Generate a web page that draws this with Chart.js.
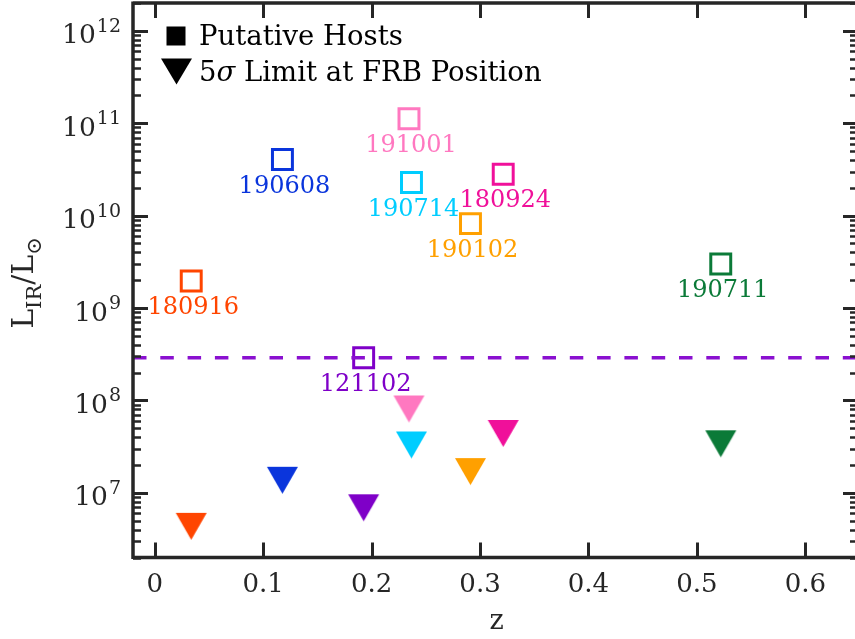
<!DOCTYPE html>
<html>
<head>
<meta charset="utf-8">
<script src="https://cdn.jsdelivr.net/npm/chart.js@4"></script>
<style>
  html, body { margin: 0; padding: 0; background: #fff; overflow: hidden; }
  canvas { display: block; }
</style>
</head>
<body>
<canvas id="irChart" width="855" height="639"></canvas>
<script>
// FRB hosts: redshift, IR luminosity of the host, and 5 sigma limit at the burst position
const frbNames = ['180916', '190608', '121102', '191001', '190714', '190102', '180924', '190711'];
const redshift = [0.0337, 0.1178, 0.1927, 0.2345, 0.2368, 0.2912, 0.3214, 0.5220];
const hostLir = [1.96e9, 4.05e10, 2.9e8, 1.12e11, 2.28e10, 8.2e9, 2.8e10, 3.0e9];
const limitLir = [4.35e6, 1.37e7, 6.9e6, 8.1e7, 3.3e7, 1.7e7, 4.4e7, 3.4e7];
const frbColors = ['#ff4500', '#0a35dc', '#7f00c8', '#ff78c0', '#00cdff', '#ffa000', '#f0109a', '#0b7a38'];
const thresholdLir = 2.9e8;
const thresholdColor = '#8a10d0';

const xTicks = [0, 0.1, 0.2, 0.3, 0.4, 0.5, 0.6];
const xTickLabels = ['0', '0.1', '0.2', '0.3', '0.4', '0.5', '0.6'];
const yTicks = [1e7, 1e8, 1e9, 1e10, 1e11, 1e12];
const yTickExps = ['7', '8', '9', '10', '11', '12'];

const xMin = -0.02, xMax = 0.6458;
const yMin = 2e6, yMax = 2e12;

const SERIF = '"DejaVu Serif", serif';
const AXIS = '#262626';

// downward triangle as an image so the marker is centred on its bounding box
function downTriangle(color, w, h) {
    const c = document.createElement('canvas');
    c.width = w + 2;
    c.height = h + 2;
    const g = c.getContext('2d');
    g.fillStyle = color;
    g.beginPath();
    g.moveTo(1, 1);
    g.lineTo(w + 1, 1);
    g.lineTo(w / 2 + 1, h + 1);
    g.closePath();
    g.fill();
    return c;
}

const triangles = frbColors.map(c => downTriangle(c, 31, 27));

const framePlugin = {
    id: 'frame',
    afterDatasetsDraw(chart) {
        const ctx = chart.ctx;
        const a = chart.chartArea;
        const xs = chart.scales.x, ys = chart.scales.y;
        ctx.save();
        ctx.strokeStyle = AXIS;
        ctx.lineCap = 'butt';

        // spines (right one sits just past the canvas edge)
        ctx.lineWidth = 3.5;
        ctx.beginPath();
        ctx.moveTo(a.left, a.top);
        ctx.lineTo(a.right, a.top);
        ctx.moveTo(a.left, a.bottom);
        ctx.lineTo(a.right, a.bottom);
        ctx.moveTo(a.left, a.top - 1.5);
        ctx.lineTo(a.left, a.bottom + 1.5);
        ctx.stroke();

        // x ticks, inward on top and bottom
        ctx.lineWidth = 3;
        ctx.beginPath();
        xTicks.forEach(v => {
            const px = Math.round(xs.getPixelForValue(v)) + 0.5;
            ctx.moveTo(px, a.bottom);
            ctx.lineTo(px, a.bottom - 15);
            ctx.moveTo(px, a.top);
            ctx.lineTo(px, a.top + 15);
        });
        ctx.stroke();

        // y ticks, major and minor, inward on left and right
        for (let e = 6; e <= 12; e++) {
            for (let m = 1; m <= 9; m++) {
                const v = m * Math.pow(10, e);
                if (v < yMin || v > yMax) continue;
                const py = Math.round(ys.getPixelForValue(v)) + 0.5;
                const major = m === 1;
                ctx.lineWidth = major ? 3 : 2.5;
                ctx.beginPath();
                ctx.moveTo(a.left, py);
                ctx.lineTo(a.left + (major ? 15 : 8), py);
                ctx.moveTo(a.right, py);
                ctx.lineTo(a.right - (major ? 12 : 5), py);
                ctx.stroke();
            }
        }
        ctx.restore();
    },
    afterDraw(chart) {
        const ctx = chart.ctx;
        const xs = chart.scales.x, ys = chart.scales.y;
        ctx.save();
        ctx.fillStyle = AXIS;

        // x tick labels
        ctx.font = '26px ' + SERIF;
        ctx.textAlign = 'center';
        ctx.textBaseline = 'alphabetic';
        xTicks.forEach((v, i) => {
            ctx.fillText(xTickLabels[i], xs.getPixelForValue(v), 592);
        });

        // y tick labels as 10^n
        yTicks.forEach((v, i) => {
            const py = ys.getPixelForValue(v);
            ctx.font = '19px ' + SERIF;
            const ew = ctx.measureText(yTickExps[i]).width;
            ctx.textAlign = 'right';
            ctx.fillText(yTickExps[i], 121, py + 1);
            ctx.font = '26.5px ' + SERIF;
            ctx.fillText('10', 121 - ew - 1, py + 12.5);
        });

        // axis titles
        ctx.font = '27px ' + SERIF;
        ctx.textAlign = 'center';
        ctx.fillText('z', 496.5, 629);

        ctx.save();
        ctx.translate(33, 283);
        ctx.rotate(-Math.PI / 2);
        const big = '30px ' + SERIF, small = '21px ' + SERIF;
        const parts = [
            { t: 'L', f: big, dy: 0 },
            { t: 'IR', f: small, dy: 8 },
            { t: '/L', f: big, dy: 0 },
            { t: '\u2299', f: small, dy: 8 }
        ];
        let total = 0;
        parts.forEach(p => { ctx.font = p.f; p.w = ctx.measureText(p.t).width; total += p.w; });
        let cx = -total / 2;
        ctx.textAlign = 'left';
        parts.forEach(p => {
            ctx.font = p.f;
            ctx.fillText(p.t, cx, p.dy);
            cx += p.w;
        });
        ctx.restore();

        // FRB names under each host square
        ctx.font = '24px ' + SERIF;
        ctx.textAlign = 'center';
        const hosts = chart.getDatasetMeta(1).data;
        hosts.forEach((pt, i) => {
            ctx.fillStyle = frbColors[i];
            ctx.fillText(frbNames[i], pt.x + 2, pt.y + 33);
        });

        // legend
        ctx.fillStyle = '#000';
        ctx.fillRect(166.5, 26.5, 19, 19);
        ctx.beginPath();
        ctx.moveTo(161, 58.5);
        ctx.lineTo(192, 58.5);
        ctx.lineTo(176.5, 84.5);
        ctx.closePath();
        ctx.fill();
        const lf = '27.5px ' + SERIF;
        ctx.font = lf;
        ctx.textAlign = 'left';
        ctx.fillText('Putative Hosts', 199, 45);
        ctx.fillText('5', 199, 81);
        const w5 = ctx.measureText('5').width;
        ctx.font = 'italic ' + lf;
        ctx.fillText('\u03c3', 199 + w5, 81);
        const ws = ctx.measureText('\u03c3').width;
        ctx.font = lf;
        ctx.fillText(' Limit at FRB Position', 199 + w5 + ws, 81);
        ctx.restore();
    }
};

const ctx = document.getElementById('irChart').getContext('2d');
new Chart(ctx, {
    type: 'scatter',
    data: {
        datasets: [
            {
                type: 'line',
                label: 'threshold',
                data: [{ x: xMin, y: thresholdLir }, { x: xMax, y: thresholdLir }],
                borderColor: thresholdColor,
                borderWidth: 3.5,
                borderDash: [13.5, 13.8],
                pointRadius: 0,
                fill: false
            },
            {
                label: 'Putative Hosts',
                data: redshift.map((z, i) => ({ x: z, y: hostLir[i] })),
                pointStyle: 'rect',
                pointRadius: 14.1,
                pointBorderWidth: 3,
                pointBorderColor: frbColors,
                pointBackgroundColor: 'rgba(0,0,0,0)'
            },
            {
                label: '5\u03c3 Limit at FRB Position',
                data: redshift.map((z, i) => ({ x: z, y: limitLir[i] })),
                pointStyle: triangles,
                pointRadius: 16
            }
        ]
    },
    options: {
        responsive: false,
        animation: false,
        devicePixelRatio: 1,
        layout: { autoPadding: false, padding: { left: 133, right: 0, top: 3, bottom: 81.5 } },
        scales: {
            x: { type: 'linear', min: xMin, max: xMax, display: false },
            y: { type: 'logarithmic', min: yMin, max: yMax, display: false }
        },
        plugins: {
            legend: { display: false },
            tooltip: { enabled: false }
        }
    },
    plugins: [framePlugin]
});
</script>
</body>
</html>
